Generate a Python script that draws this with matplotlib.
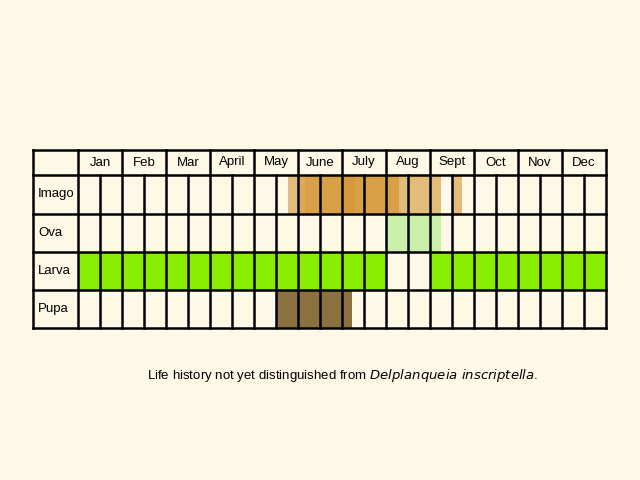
import matplotlib
matplotlib.use("Agg")
import matplotlib.pyplot as plt
from matplotlib.patches import Rectangle

months = ["Jan","Feb","Mar","April","May","June","July","Aug","Sept","Oct","Nov","Dec"]
stages = ["Imago","Ova","Larva","Pupa"]
# spans in half-month column units (start, end), with alpha
imago_spans = [(9.55,16.5,0.55),(10.0,14.6,0.35),(10.3,14.6,0.3),(12.05,12.6,0.3),(17.05,17.45,0.55)]
ova_spans = [(14.0,16.5)]
larva_spans = [(0,14),(16,24)]
pupa_spans = [(9.0,12.45)]

bg = "#fdf9e6"
fig = plt.figure(figsize=(6.4,4.8), dpi=100, facecolor=bg)
ax = fig.add_axes([0,0,1,1])
ax.set_xlim(0,640); ax.set_ylim(480,0); ax.axis("off")
ax.set_facecolor(bg)

x0, lab_w, cw = 33, 45, 22.0
xs = x0+lab_w
tops = [150,175,214,252,290,328]
def cx(c): return xs+c*cw
row = {s:(tops[i+1],tops[i+2]) for i,s in enumerate(stages)}

def fill(stage, spans, color, alpha=1.0):
    y0,y1 = row[stage]
    for sp in spans:
        a = sp[2] if len(sp)>2 else alpha
        ax.add_patch(Rectangle((cx(sp[0]),y0),cx(sp[1])-cx(sp[0]),y1-y0,color=color,alpha=a,lw=0))

fill("Imago", imago_spans, "#d08a20")
fill("Ova", ova_spans, "#c8f0a8")
fill("Larva", larva_spans, "#88ee00")
fill("Pupa", pupa_spans, "#8b7040")

lw=1.8
for y in tops:
    ax.plot([x0,cx(24)],[y,y],color="black",lw=lw)
ax.plot([x0,x0],[tops[0],tops[-1]],color="black",lw=lw)
for c in range(25):
    y_start = tops[0] if c%2==0 else tops[1]
    ax.plot([cx(c),cx(c)],[y_start,tops[-1]],color="black",lw=lw)
for i,m in enumerate(months):
    ax.text(cx(2*i+1),(tops[0]+tops[1])/2,m,ha="center",va="center",fontsize=9.5,family="Liberation Sans")
for s in stages:
    y0,y1=row[s]
    ax.text(x0+5,(y0+y1)/2,s,ha="left",va="center",fontsize=9.5,family="Liberation Sans")
ax.text(343,376,"Life history not yet distinguished from $\\it{Delplanqueia\\ inscriptella}$.",
        ha="center",va="center",fontsize=9.5,family="Liberation Sans")
fig.savefig("out.png",dpi=100,facecolor=bg)
